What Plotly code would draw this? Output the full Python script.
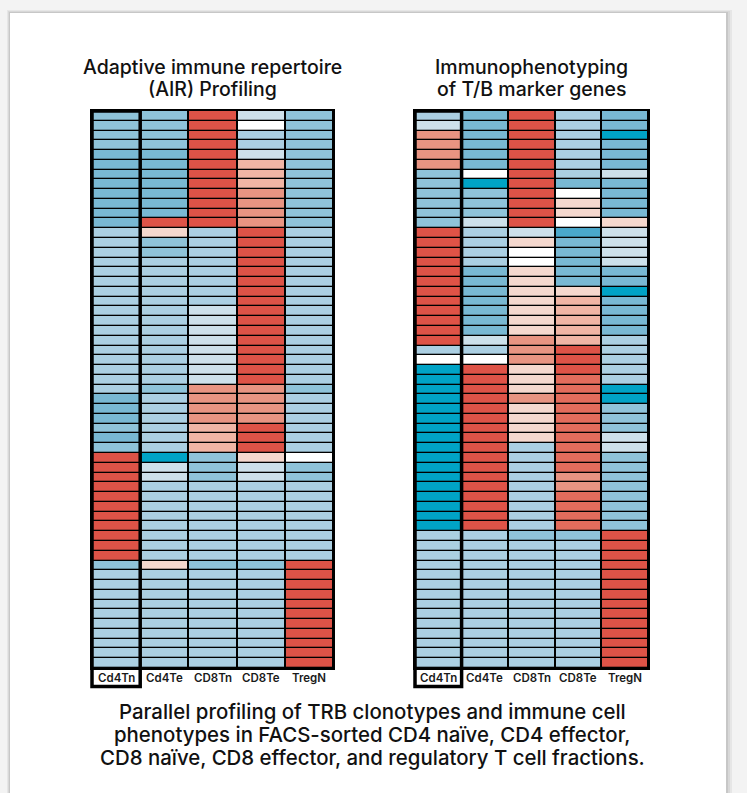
import plotly.graph_objects as go

FIG_W, FIG_H = 747, 793

CELL_TYPES = ["Cd4Tn", "Cd4Te", "CD8Tn", "CD8Te", "TregN"]

# ---- Adaptive immune repertoire (AIR) profiling: scaled scores per clonotype row ----
air_cd4tn = [-0.55, -0.55, -0.55, -0.55, -0.7, -0.7, -0.7, -0.7, -0.7, -0.7, -0.7, -0.7,
             -0.4, -0.4, -0.4, -0.4, -0.4, -0.4, -0.4, -0.4, -0.4, -0.4, -0.4, -0.4, -0.4, -0.4, -0.4, -0.4, -0.4,
             -0.7, -0.7, -0.7, -0.55, -0.7, -0.55,
             1.0, 1.0, 1.0, 1.0, 1.0, 1.0, 1.0, 1.0, 1.0, 1.0, 1.0,
             -0.55, -0.4, -0.4, -0.4, -0.4, -0.4, -0.4, -0.4, -0.4, -0.4, -0.4]
air_cd4te = [-0.55, -0.55, -0.55, -0.55, -0.7, -0.7, -0.7, -0.7, -0.7, -0.7, -0.7, 1.0,
             0.2, -0.55, -0.55,
             -0.4, -0.4, -0.4, -0.4, -0.4, -0.4, -0.4, -0.4, -0.4, -0.4, -0.4, -0.4, -0.4,
             -0.55, -0.4, -0.4, -0.4, -0.4, -0.4, -0.4,
             -1.0, -0.2, -0.2,
             -0.4, -0.4, -0.4, -0.4, -0.4, -0.4, -0.4, -0.4,
             0.2, -0.4, -0.4, -0.4, -0.4, -0.4, -0.4, -0.4, -0.4, -0.4, -0.4]
air_cd8tn = [1.0, 1.0, 1.0, 1.0, 1.0, 1.0, 1.0, 1.0, 1.0, 1.0, 1.0, 1.0,
             -0.4, -0.4, -0.4, -0.4, -0.4, -0.4, -0.4, -0.4,
             -0.2, -0.2, -0.2, -0.2, -0.2, -0.2, -0.2, -0.2,
             0.6, 0.6, 0.6, 0.6, 0.4, 0.4, 0.4,
             -0.55, -0.55, -0.55,
             -0.4, -0.4, -0.4, -0.4, -0.4, -0.4, -0.4, -0.4,
             -0.55, -0.4, -0.4, -0.4, -0.4, -0.4, -0.4, -0.4, -0.4, -0.4, -0.4]
air_cd8te = [-0.2, 0.0, -0.4, -0.4, -0.2, 0.4, 0.4, 0.4, 0.6, 0.6, 0.6, 0.6,
             1.0, 1.0, 1.0, 1.0, 1.0, 1.0, 1.0, 1.0, 1.0, 1.0, 1.0, 1.0, 1.0, 1.0, 1.0, 1.0,
             0.6, 0.6, 0.6, 0.6, 1.0, 1.0, 1.0,
             0.2, -0.2, -0.2,
             -0.4, -0.4, -0.4, -0.4, -0.4, -0.4, -0.4, -0.4,
             -0.55, -0.4, -0.4, -0.4, -0.4, -0.4, -0.4, -0.4, -0.4, -0.4, -0.4]
air_tregn = [-0.55, -0.55, -0.55, -0.55, -0.55, -0.55, -0.55, -0.55, -0.55, -0.55, -0.55, -0.55,
             -0.4, -0.4, -0.4, -0.4, -0.4, -0.4, -0.4, -0.4, -0.4, -0.4, -0.4, -0.4, -0.4, -0.4, -0.4, -0.4,
             -0.55, -0.4, -0.4, -0.4, -0.4, -0.4, -0.4,
             0.0, -0.55, -0.55,
             -0.4, -0.4, -0.4, -0.4, -0.4, -0.4, -0.4, -0.4,
             1.0, 1.0, 1.0, 1.0, 1.0, 1.0, 1.0, 1.0, 1.0, 1.0, 1.0]

# ---- Immunophenotyping of T/B marker genes: scaled expression per gene row ----
imm_cd4tn = [-0.4, -0.2, 0.6, 0.6, 0.6, 0.6, -0.55, -0.55, -0.55, -0.55, -0.55, -0.55,
             1.0, 1.0, 1.0, 1.0, 1.0, 1.0, 1.0, 1.0, 1.0, 1.0, 1.0, 1.0,
             -0.4, 0.0,
             -1.0, -1.0, -1.0, -1.0, -1.0, -1.0, -1.0, -1.0, -1.0, -1.0, -1.0, -1.0, -1.0, -1.0, -1.0, -1.0, -1.0,
             -0.4, -0.4, -0.4, -0.4, -0.4, -0.4, -0.4, -0.4, -0.4, -0.4, -0.4, -0.4, -0.4, -0.4]
imm_cd4te = [-0.7, -0.7, -0.7, -0.7, -0.7, -0.7, 0.0, -1.0, -0.55, -0.55, -0.55, -0.2,
             -0.4, -0.4, -0.4, -0.4, -0.7, -0.7, -0.7, -0.7, -0.7, -0.7, -0.7, -0.2,
             -0.4, 0.0,
             1.0, 1.0, 1.0, 1.0, 1.0, 1.0, 1.0, 1.0, 1.0, 1.0, 1.0, 1.0, 1.0, 1.0, 1.0, 1.0, 1.0,
             -0.4, -0.4, -0.4, -0.4, -0.4, -0.4, -0.4, -0.4, -0.4, -0.4, -0.4, -0.4, -0.4, -0.4]
imm_cd8tn = [1.0, 1.0, 1.0, 1.0, 1.0, 1.0, 1.0, 1.0, 1.0, 1.0, 1.0, 1.0,
             -0.2, 0.2, 0.0, 0.0, 0.2, 0.2, 0.2, 0.2, 0.2, 0.2, 0.2, 0.6,
             0.6, 0.6,
             0.2, 0.2, 0.2, 0.6, 0.2, 0.2, 0.2, 0.2, -0.4, -0.4, -0.4, -0.4, -0.4, -0.4, -0.4, -0.4, -0.4,
             -0.55, -0.4, -0.4, -0.4, -0.4, -0.4, -0.4, -0.4, -0.4, -0.4, -0.4, -0.4, -0.4, -0.4]
imm_cd8te = [-0.4, -0.4, -0.4, -0.4, -0.4, -0.4, -0.4, -0.7, 0.0, 0.2, 0.2, 0.0,
             -0.85, -0.7, -0.7, -0.7, -0.7, -0.7, 0.2, 0.4, 0.4, 0.4, 0.4, 0.4,
             1.0, 1.0,
             1.0, 0.8, 0.8, 0.8, 0.8, 0.8, 0.8, 0.8, 0.8, 0.8, 0.8, 0.6, 0.6, 0.8, 0.8, 0.8, 0.8,
             -0.55, -0.4, -0.4, -0.4, -0.4, -0.4, -0.4, -0.4, -0.4, -0.4, -0.4, -0.4, -0.4, -0.4]
imm_tregn = [-0.7, -0.7, -1.0, -0.7, -0.7, -0.7, -0.2, -0.7, -0.7, -0.7, -0.7, 0.2,
             -0.2, -0.2, -0.2, -0.2, -0.7, -0.7, -1.0, -0.7, -0.7, -0.7, -0.7, -0.4,
             -0.4, -0.4,
             -0.4, -0.4, -1.0, -1.0, -0.55, -0.55, -0.55, -0.2, -0.2, -0.55, -0.55, -0.55, -0.55, -0.55, -0.55, -0.55, -0.55,
             1.0, 1.0, 1.0, 1.0, 1.0, 1.0, 1.0, 1.0, 1.0, 1.0, 1.0, 1.0, 1.0, 1.0]

PANEL_TITLES = [["Adaptive immune repertoire", "(AIR) Profiling"],
                ["Immunophenotyping", "of T/B marker genes"]]
CAPTION_LINES = ["Parallel profiling of TRB clonotypes and immune cell",
                 "phenotypes in FACS-sorted CD4 naïve, CD4 effector,",
                 "CD8 naïve, CD8 effector, and regulatory T cell fractions."]

# diverging palette: cyan-blue (low) -> white -> red (high)
COLORSCALE = [[0.0, "#00A3C6"], [0.075, "#4AA8CB"], [0.15, "#79B8D3"], [0.225, "#8FC3D9"],
              [0.3, "#ABCFE2"], [0.4, "#CDE0EA"], [0.5, "#FFFFFF"], [0.6, "#F5D8CE"],
              [0.7, "#F0B5A5"], [0.8, "#E89482"], [0.9, "#E26C5C"], [1.0, "#DE5347"]]

FONT = "Inter"


def px_x(p):
    return p / FIG_W


def px_y(p):
    return 1 - p / FIG_H


panels = [
    [air_cd4tn, air_cd4te, air_cd8tn, air_cd8te, air_tregn],
    [imm_cd4tn, imm_cd4te, imm_cd8tn, imm_cd8te, imm_tregn],
]
x_domains = [[px_x(92), px_x(333)], [px_x(415), px_x(648)]]
y_domain = [px_y(668), px_y(111)]

fig = go.Figure()
annotations = []

for i, cols in enumerate(panels):
    n_rows = len(cols[0])
    z = [[cols[c][r] for c in range(len(cols))] for r in range(n_rows)]
    suffix = "" if i == 0 else str(i + 1)
    fig.add_trace(go.Heatmap(
        z=z, x=list(range(len(CELL_TYPES))), y=list(range(n_rows)),
        colorscale=COLORSCALE, zmin=-1, zmax=1, showscale=False,
        xgap=2, ygap=1.3, hoverinfo="skip",
        xaxis="x" + suffix, yaxis="y" + suffix,
    ))

    xa = dict(domain=x_domains[i], range=[-0.5, len(CELL_TYPES) - 0.5],
              showticklabels=False, ticks="", showgrid=False, zeroline=False,
              showline=True, mirror=True, linecolor="black", linewidth=1.5,
              anchor="y" + suffix, fixedrange=True)
    ya = dict(domain=y_domain, range=[n_rows - 0.5, -0.5], showticklabels=False,
              ticks="", showgrid=False, zeroline=False, showline=True, mirror=True,
              linecolor="black", linewidth=1.5, anchor="x" + suffix, fixedrange=True)
    fig.layout["xaxis" + suffix] = xa
    fig.layout["yaxis" + suffix] = ya

    # column labels, positioned on the panel's own x axis
    for c, name in enumerate(CELL_TYPES):
        annotations.append(dict(text=name, xref="x" + suffix, yref="paper",
                                x=c, y=px_y(677.5), xanchor="center", yanchor="middle",
                                showarrow=False,
                                font=dict(family=FONT, size=11.5, color="#1a1a1a", weight=600)))

shapes = []
# page backdrop with a soft card shadow
for off, op in [(6, 0.05), (4, 0.06), (2, 0.08)]:
    shapes.append(dict(type="rect", xref="paper", yref="paper", layer="below",
                       x0=px_x(10 - off / 2), x1=px_x(726 + off), y0=0, y1=px_y(13 - off / 2),
                       fillcolor=f"rgba(0,0,0,{op})", line=dict(width=0)))
shapes.append(dict(type="rect", xref="paper", yref="paper", layer="below",
                   x0=px_x(10), x1=px_x(726), y0=0, y1=px_y(13),
                   fillcolor="white", line=dict(width=0)))
# black cell-grid backing behind each heatmap
for dom in x_domains:
    shapes.append(dict(type="rect", xref="paper", yref="paper", layer="below",
                       x0=dom[0], x1=dom[1], y0=y_domain[0], y1=y_domain[1],
                       fillcolor="black", line=dict(width=0)))

# bold outline around the Cd4Tn column, reaching down around its label
for dom in x_domains:
    col_w = (dom[1] - dom[0]) / len(CELL_TYPES)
    shapes.append(dict(type="rect", xref="paper", yref="paper", layer="above",
                       x0=dom[0], x1=dom[0] + col_w, y0=px_y(686.5), y1=y_domain[1],
                       line=dict(color="black", width=3.5), fillcolor="rgba(0,0,0,0)"))

for dom, lines in zip(x_domains, PANEL_TITLES):
    for k, line in enumerate(lines):
        annotations.append(dict(text=line, xref="paper", yref="paper",
                                x=(dom[0] + dom[1]) / 2, y=px_y(66.5 + 22 * k),
                                xanchor="center", yanchor="middle", showarrow=False,
                                font=dict(family=FONT, size=19.5, color="#111111", weight=500)))
for k, line in enumerate(CAPTION_LINES):
    annotations.append(dict(text=line, xref="paper", yref="paper",
                            x=px_x(372), y=px_y(711 + 23 * k),
                            xanchor="center", yanchor="middle", showarrow=False,
                            font=dict(family=FONT, size=20.4, color="#111111", weight=500)))

fig.update_layout(
    width=FIG_W, height=FIG_H,
    margin=dict(l=0, r=0, t=0, b=0),
    paper_bgcolor="#F3F3F3", plot_bgcolor="black",
    shapes=shapes, annotations=annotations,
    showlegend=False,
)

fig.write_html("out.html", config={"displayModeBar": False})
